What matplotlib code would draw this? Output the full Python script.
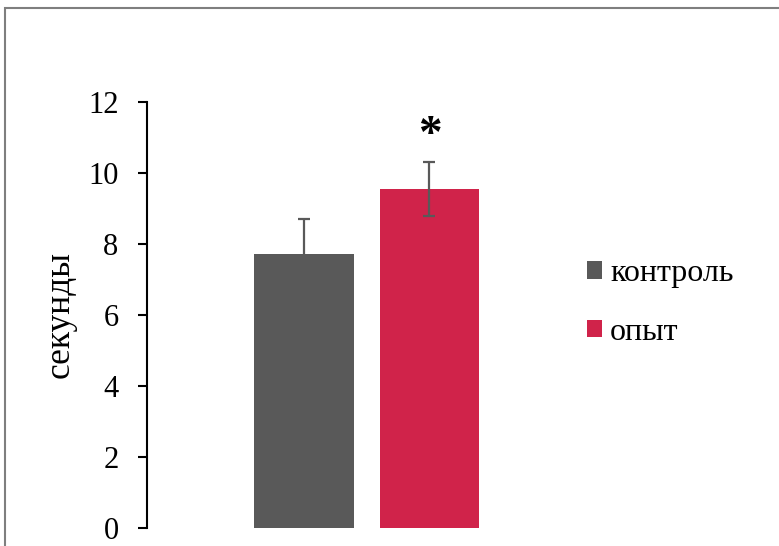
import matplotlib.pyplot as plt
from matplotlib.patches import Rectangle

groups = ['контроль', 'опыт']
values = [7.72, 9.55]
errors = [0.98, 0.75]
colors = ['#595959', '#D0234A']
yticks = [0, 2, 4, 6, 8, 10, 12]

plt.rcParams['font.family'] = ['Liberation Serif', 'DejaVu Serif']

fig = plt.figure(figsize=(7.79, 5.46), dpi=100)
W, H = 779, 546

# outer chart frame (cut off on the right and bottom)
fig.patches.append(Rectangle((5 / W, -0.1), 1.2, (546 - 8) / H + 0.1,
                             transform=fig.transFigure, fill=False,
                             edgecolor='#7f7f7f', linewidth=1.5))

ax = fig.add_axes([147 / W, (546 - 528) / H, (560 - 147) / W, (528 - 102) / H])

x = [0, 1]
bars = ax.bar(x, values, width=0.79, color=colors, zorder=2)
ax.errorbar(x, values, yerr=errors, fmt='none', ecolor='#595959',
            elinewidth=1.6, capsize=4.5, capthick=1.6, zorder=3)

# significance mark
ax.text(1, 11.05, '*', ha='center', va='center', fontsize=34, fontweight='bold')

ax.set_xlim(-1.251, 2.04)
ax.set_ylim(0, 12)
ax.set_yticks(yticks)
ax.set_xticks([])
for side in ['top', 'right', 'bottom']:
    ax.spines[side].set_visible(False)
ax.spines['left'].set_linewidth(1.5)
ax.tick_params(axis='y', direction='out', length=6.5, width=1.5,
               labelsize=22, pad=14)
ax.set_ylabel('секунды', fontsize=25.5, labelpad=8)

ax.legend(bars, groups, loc='center left',
          bbox_to_anchor=(587 / W, (546 - 303) / H),
          bbox_transform=fig.transFigure, frameon=False, fontsize=23,
          handlelength=0.47, handleheight=0.47, handletextpad=0.25,
          labelspacing=0.92, borderpad=0, borderaxespad=0)

fig.savefig('out.png', dpi=100)
